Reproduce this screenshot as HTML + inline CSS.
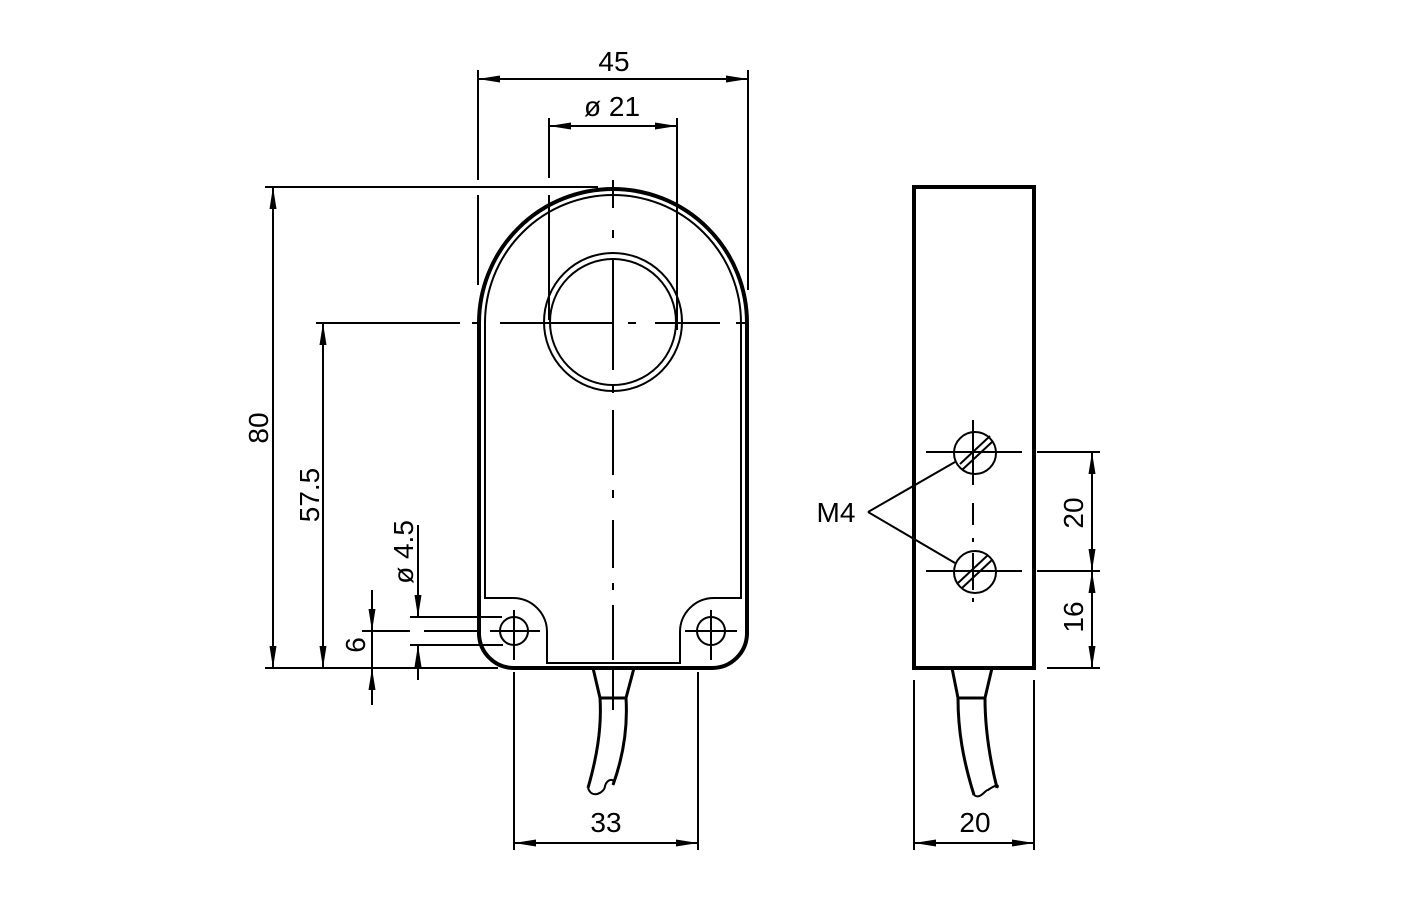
<!DOCTYPE html>
<html><head><meta charset="utf-8"><style>
html,body{margin:0;padding:0;background:#fff}
svg{display:block}
text{font-family:"Liberation Sans",sans-serif;font-size:28px;fill:#000}
</style></head><body>
<svg width="1417" height="909" viewBox="0 0 1417 909" xmlns="http://www.w3.org/2000/svg">
<g fill="none" stroke="#000">
<path d="M479,323 A134,134 0 0 1 747,323 L747,633 A35,35 0 0 1 712,668 L514,668 A35,35 0 0 1 479,633 Z" stroke-width="4"/>
<path d="M485,323 A128,128 0 0 1 741,323 L741,598 L714,598 A34,34 0 0 0 680,632 L680,663 L547,663 L547,632 A34,34 0 0 0 513,598 L485,598 Z" stroke-width="2"/>
<circle cx="613" cy="322" r="69" stroke-width="2"/>
<circle cx="613" cy="322" r="63" stroke-width="2"/>
<circle cx="514" cy="631" r="14" stroke-width="2"/>
<circle cx="711" cy="631" r="14" stroke-width="2"/>
<g stroke-width="2">
<line x1="514" y1="610" x2="514" y2="660"/><line x1="490" y1="631" x2="540" y2="631"/>
<line x1="711" y1="610" x2="711" y2="660"/><line x1="685" y1="631" x2="737" y2="631"/>
</g>
<path d="M613,180 V208 M613,230 V238 M613,258 V370 M613,385 V393 M613,410 V475 M613,490 V498 M613,520 V568 M613,583 V590 M613,605 V660" stroke-width="2"/>
<path d="M316,323 H460 M472,323 H480 M500,323 H613 M628,323 H636 M655,323 H720 M736,323 H745" stroke-width="2"/>
<path d="M593,668 L600,698 L626,698 L634,668" stroke-width="3"/>
<path d="M600,698 C602,730 596,760 588,788 M626,698 C628,730 622,760 613,785" stroke-width="3"/>
<path d="M588,788 C592,800 605,792 605,786 C607,778 616,778 613,785" stroke-width="2"/>
<line x1="613" y1="668" x2="613" y2="710" stroke-width="2"/>
<g stroke-width="2">
<line x1="478" y1="70" x2="478" y2="180"/><line x1="478" y1="195" x2="478" y2="285"/>
<line x1="748" y1="70" x2="748" y2="290"/>
<line x1="478" y1="79" x2="748" y2="79"/>
<line x1="549" y1="118" x2="549" y2="178"/><line x1="549" y1="195" x2="549" y2="320"/>
<line x1="677" y1="118" x2="677" y2="330"/>
<line x1="549" y1="126" x2="677" y2="126"/>
<line x1="265" y1="187" x2="598" y2="187"/>
<line x1="265" y1="668" x2="498" y2="668"/>
<line x1="273" y1="187" x2="273" y2="668"/>
<line x1="323" y1="323" x2="323" y2="668"/>
<line x1="410" y1="617" x2="502" y2="617"/><line x1="410" y1="645" x2="503" y2="645"/>
<line x1="362" y1="631" x2="410" y2="631"/><line x1="424" y1="631" x2="480" y2="631"/>
<line x1="418" y1="525" x2="418" y2="617"/><line x1="418" y1="645" x2="418" y2="680"/>
<line x1="372" y1="590" x2="372" y2="705"/>
<line x1="514" y1="672" x2="514" y2="850"/><line x1="698" y1="672" x2="698" y2="850"/>
<line x1="514" y1="843" x2="698" y2="843"/>
</g>
<rect x="914" y="187" width="120" height="481" stroke-width="4"/>
<circle cx="975" cy="453" r="21" stroke-width="2"/>
<circle cx="975" cy="572" r="21" stroke-width="2"/>
<g stroke-width="2">
<line x1="926" y1="452" x2="1022" y2="452"/><line x1="926" y1="571" x2="1022" y2="571"/>
<path d="M973,420 V485 M973,503 V525 M973,538 V542 M973,553 V590 M973,598 V602"/>
<line x1="960" y1="464" x2="990" y2="436"/><line x1="962" y1="470" x2="992" y2="442"/>
<line x1="958" y1="583" x2="988" y2="555"/><line x1="962" y1="588" x2="992" y2="560"/>
<line x1="868" y1="512" x2="955" y2="462"/><line x1="868" y1="512" x2="955" y2="563"/>
<line x1="1037" y1="452" x2="1100" y2="452"/><line x1="1037" y1="571" x2="1100" y2="571"/>
<line x1="1047" y1="668" x2="1100" y2="668"/>
<line x1="1092" y1="452" x2="1092" y2="668"/>
<line x1="914" y1="680" x2="914" y2="850"/><line x1="1034" y1="680" x2="1034" y2="850"/>
<line x1="914" y1="843" x2="1034" y2="843"/>
</g>
<path d="M952,668 L958,698 L985,698 L992,668" stroke-width="3"/>
<path d="M958,698 C958,730 963,760 974,795 M985,698 C985,730 990,760 997,788" stroke-width="3"/>
<path d="M974,795 C980,800 985,790 988,790 C995,785 1000,784 997,788" stroke-width="2"/>
</g>
<g fill="#000">
<path d="M478,79 l22,-3.5 v7 z"/><path d="M748,79 l-22,-3.5 v7 z"/>
<path d="M549,126 l22,-3.5 v7 z"/><path d="M677,126 l-22,-3.5 v7 z"/>
<path d="M273,187 l-3.5,22 h7 z"/><path d="M273,668 l-3.5,-22 h7 z"/>
<path d="M323,323 l-3.5,22 h7 z"/><path d="M323,668 l-3.5,-22 h7 z"/>
<path d="M418,617 l-3.5,-22 h7 z"/><path d="M418,645 l-3.5,22 h7 z"/>
<path d="M372,631 l-3.5,-22 h7 z"/><path d="M372,668 l-3.5,22 h7 z"/>
<path d="M514,843 l22,-3.5 v7 z"/><path d="M698,843 l-22,-3.5 v7 z"/>
<path d="M1092,452 l-3.5,22 h7 z"/><path d="M1092,571 l-3.5,-22 h7 z"/>
<path d="M1092,571 l-3.5,22 h7 z"/><path d="M1092,668 l-3.5,-22 h7 z"/>
<path d="M914,843 l22,-3.5 v7 z"/><path d="M1034,843 l-22,-3.5 v7 z"/>
</g>
<text x="614" y="71" text-anchor="middle">45</text>
<text x="612" y="116" text-anchor="middle">ø 21</text>
<text x="606" y="832" text-anchor="middle">33</text>
<text x="975" y="832" text-anchor="middle">20</text>
<text x="836" y="522" text-anchor="middle">M4</text>
<text transform="translate(268,428) rotate(-90)" text-anchor="middle">80</text>
<text transform="translate(319,495) rotate(-90)" text-anchor="middle">57.5</text>
<text transform="translate(413,552) rotate(-90)" text-anchor="middle">ø 4.5</text>
<text transform="translate(365,645) rotate(-90)" text-anchor="middle">6</text>
<text transform="translate(1083,513) rotate(-90)" text-anchor="middle">20</text>
<text transform="translate(1083,617) rotate(-90)" text-anchor="middle">16</text>
</svg>
</body></html>
